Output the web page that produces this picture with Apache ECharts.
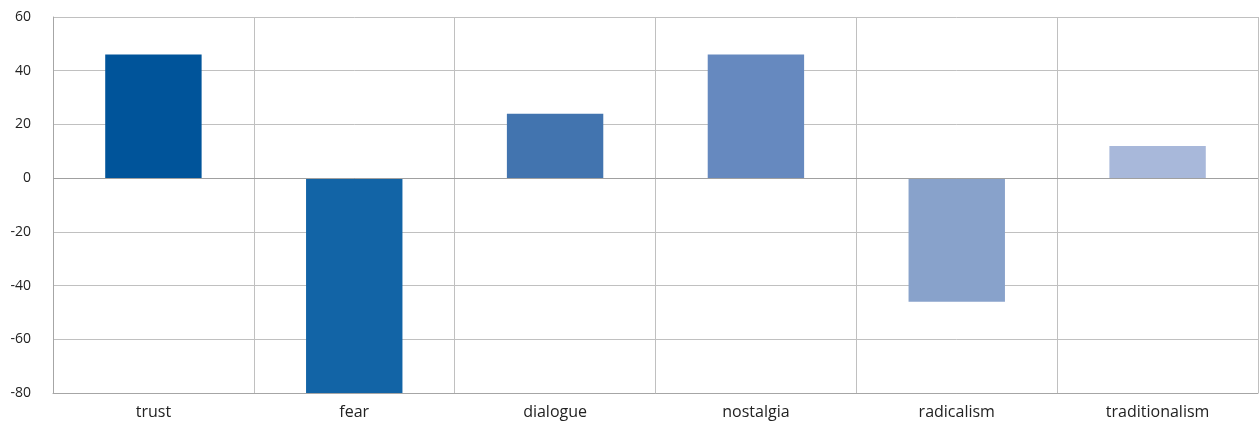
<!DOCTYPE html>
<html>
<head>
<meta charset="utf-8">
<script src="https://cdn.jsdelivr.net/npm/echarts@6/dist/echarts.min.js"></script>
<style>
  html, body { margin: 0; padding: 0; background: #fff; }
  #chart { width: 1260px; height: 424px; }
</style>
</head>
<body>
<div id="chart"></div>
<script>
var categories = ['trust', 'fear', 'dialogue', 'nostalgia', 'radicalism', 'traditionalism']
var values = [46, -80, 24, 46, -46, 12]
var barColors = ['#00549A', '#1264A6', '#4274AF', '#6689BF', '#88A2CB', '#A8B8DA']

var myChart = echarts.init(document.getElementById('chart'))
var option = {
  backgroundColor: '#ffffff',
  animation: false,
  grid: {
    left: 53,
    right: 2,
    top: 17,
    bottom: 31
  },
  xAxis: {
    type: 'category',
    data: categories,
    axisLine: { onZero: false, lineStyle: { color: '#a6a6a6', width: 1 } },
    axisTick: { show: false },
    splitLine: { show: true, lineStyle: { color: '#c0c0c0', width: 1 } },
    axisLabel: {
      color: '#222',
      fontSize: 16,
      fontFamily: 'Open Sans',
      margin: 11
    }
  },
  yAxis: {
    type: 'value',
    min: -80,
    max: 60,
    interval: 20,
    axisLine: { show: true, lineStyle: { color: '#a6a6a6', width: 1 } },
    axisTick: { show: false },
    splitLine: { lineStyle: { color: '#c0c0c0', width: 1 } },
    axisLabel: {
      color: '#222',
      fontSize: 14,
      fontFamily: 'Open Sans',
      margin: 22
    }
  },
  series: [{
    type: 'bar',
    barWidth: '48%',
    data: values.map(function (v, i) {
      return { value: v, itemStyle: { color: barColors[i] } }
    }),
    markLine: {
      silent: true,
      symbol: 'none',
      label: { show: false },
      lineStyle: { color: '#a0a0a0', width: 1, type: 'solid' },
      data: [{ yAxis: 0 }]
    }
  }]
}
myChart.setOption(option)
</script>
</body>
</html>
